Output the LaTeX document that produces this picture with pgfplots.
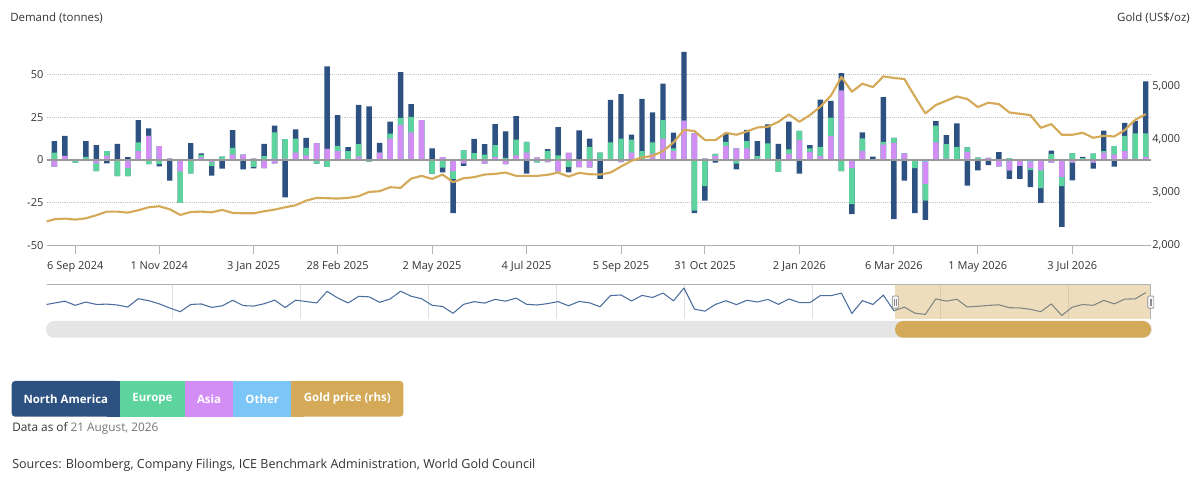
\documentclass[border=0pt]{standalone}
\usepackage{pgfplots}
\pgfplotsset{compat=1.18}
\usepackage{pgfplotstable}
\usepackage{fontspec}
\setmainfont{Open Sans}

\definecolor{cNA}{HTML}{2D5282}
\definecolor{cEU}{HTML}{5DD39E}
\definecolor{cAS}{HTML}{D38EF6}
\definecolor{cOT}{HTML}{7CC5F7}
\definecolor{cGD}{HTML}{D4AA58}
\definecolor{cTxt}{HTML}{333333}
\definecolor{cNav}{HTML}{4B6E9E}

\pgfplotstableread{
w na eu as ot gold
-3 0 0 0 0 2440
-2 6.7 4.3 -3.9 0 2496
-1 11.7 0 2.4 0 2508
0 0 -1.5 0 0.3 2489
1 9.2 1.2 0.6 0 2514
2 8.6 -4.5 -1.5 -0.5 2571
3 -2 2.7 2.4 0 2639
4 9.4 -9.4 0 0 2639
5 1.6 -4.7 -4.7 0 2620
6 13.1 5.1 5.1 0 2665
7 4.3 -2.4 14.1 0 2721
8 -1.4 -2.4 8 0 2740
9 -11.5 -0.5 0.8 0 2684
10 0 -18.4 -6.7 0 2577
11 9.8 -7.8 0 0 2633
12 0.8 1.5 1.5 0 2639
13 -5.5 -2.4 -1.2 0 2627
14 -5.1 2 0 0 2671
15 10.4 3.9 3.1 0 2615
16 -5.5 0 3.1 0 2608
17 -0.8 -4.1 0.8 0 2608
18 7.2 2.2 -4.7 0 2646
19 3.9 15.3 -2 0.8 2677
20 -21.8 11.4 0.8 0 2721
21 5.3 8.2 4.3 0 2759
22 5.9 4.3 2.7 0 2846
23 0 -2.2 9.8 0 2897
24 48.2 -4 6.4 0 2891
25 17.9 3.1 5.1 0 2884
26 2.4 5.1 0 0 2897
27 22.8 7.4 1.9 0 2928
28 30.8 -1 0 0.5 3009
29 5.7 0 4.3 0 3022
30 6.9 2.9 12.5 0 3097
31 26.7 4.1 20.4 0 3085
32 7.5 9 16.1 0 3259
33 0 0 23.3 0 3310
34 6.7 -8 0 0 3253
35 -2.7 -4.5 1.6 0 3335
36 -20 -4.5 -6.5 0 3191
37 -1.5 5.8 -2 0 3266
38 8.3 3.5 0.5 0 3285
39 6.1 3.1 -2.2 0 3335
40 12.2 7.1 1.6 0 3347
41 15.5 1.2 -2.5 0 3372
42 13.7 9.2 2.7 0 3310
43 -8 6.3 4.3 0 3310
44 0 -1.4 1.3 0 3310
45 1 5.3 -1.2 0 3329
46 16.5 2.7 -6.7 0 3372
47 -3.2 -3.5 4.1 -0.5 3297
48 17.3 0 -4.2 0 3366
49 4.8 7.6 -4.3 0 3341
50 -11 4.3 0 0 3335
51 24.9 10.2 0 0 3372
52 25.9 12.5 -1.2 0 3485
53 2.9 7.6 4.3 0 3592
54 30.6 5.1 0 0 3654
55 17.6 6.5 3.7 0 3686
56 21.2 10.8 12.5 0 3774
57 9.2 1.6 5.1 -0.5 3936
58 40.2 0 22.9 0 4175
59 -1.4 -29.6 15.5 0 4150
60 -8.4 -15.3 0.8 0 3981
61 -1.5 1.2 2.4 0 3981
62 5.3 2.5 8 0 4118
63 -3.3 -2.2 6.7 0 4081
64 6.5 4.3 6.7 0 4143
65 8.8 1.4 0.8 0 4218
66 11.2 8.8 0.8 0 4231
67 9.4 -7 0 0 4325
68 16.1 2.7 3.5 0 4462
69 -7.4 5.3 11.6 -0.6 4325
70 2 2 4.7 0 4451
71 27.5 5.5 2.2 0 4607
72 9.8 10.8 13.9 0 4814
73 10.2 -6.5 40 0.5 5165
74 -5.9 -21 -4.7 0 4889
75 3.5 7.3 5.3 0 5039
76 2 0 0 0 4975
77 26.1 1.6 9 0 5177
78 -34.5 2.9 10 0 5146
79 -12 0 3.9 0 5127
80 -26.3 -4.7 0.5 0 4800
81 -11.2 -9.8 -12.7 -1.2 4481
82 2.7 9.8 10.2 0 4639
83 5.3 8.4 0.8 0 4720
84 13.7 7.6 0 0 4800
85 -14.9 2.7 4.7 0 4751
86 -6.1 1.4 0 0 4601
87 -3 0 1.2 0 4682
88 4.5 0 -3.7 0 4657
89 -5 1 -5.3 -0.8 4500
90 -7.5 0 -3.5 0 4475
91 -10 -1.2 -3.5 -1.2 4451
92 -8.6 -10.4 -6.1 0 4212
93 2 3.5 -1.5 0 4281
94 -23.7 -5.5 -9.8 0 4081
95 -10.4 3.5 -1.5 0.3 4081
96 0.8 0.5 0 0.5 4118
97 -3.5 3.7 -1.6 0 4024
98 12 0.8 4.3 0 4062
99 -3.9 4.9 3.1 0 4049
100 7.6 9 5.1 0 4169
101 7.3 14.7 0.8 0 4362
102 30.4 13.7 1.8 0 4469
}\data

\pgfplotsset{
  mybar/.style={ybar, bar width=0.52, bar shift=0pt, draw=none, fill=#1},
  tickfont/.style={font=\fontsize{8.25}{10}\selectfont, text=cTxt},
}

\begin{document}
\begin{tikzpicture}
\useasboundingbox (0,0) rectangle (900pt,363pt);

% axis titles
\node[anchor=west, inner sep=0, font=\fontsize{8.6}{10}\selectfont, text=cTxt] at (7.5pt,349.5pt) {Demand (tonnes)};
\node[anchor=east, inner sep=0, font=\fontsize{8.6}{10}\selectfont, text=cTxt] at (892.5pt,349.5pt) {Gold (US\$/oz)};

% main demand axis
\begin{axis}[
  at={(35.03pt,178.73pt)}, anchor=south west, scale only axis,
  width=828.2pt, height=154.3pt,
  xmin=-2.725, xmax=102.5, ymin=-50, ymax=70,
  axis x line*=bottom, axis y line*=left,
  y axis line style={draw=none},
  x axis line style={black!30, line width=0.75pt},
  xtick={0,8,17,25,34,43,52,60,69,78,86,95},
  xticklabels={6 Sep 2024, 1 Nov 2024, 3 Jan 2025, 28 Feb 2025, 2 May 2025, 4 Jul 2025, 5 Sep 2025, 31 Oct 2025, 2 Jan 2026, 6 Mar 2026, 1 May 2026, 3 Jul 2026},
  xtick align=outside, major tick length=6pt,
  xtick style={black!30, line width=0.75pt},
  ytick={-50,-25,0,25,50},
  yticklabels={-50,-25,0,25,50},
  ytick style={draw=none},
  ymajorgrids, major grid style={densely dotted, black!22, line width=0.6pt},
  ticklabel style={tickfont},
  xticklabel style={yshift=-2pt},
  yticklabel style={xshift=1pt},
  clip=true,
]
\addplot[mybar=cNA] table[x=w, y expr={max(\thisrow{na},0)+max(\thisrow{eu},0)+max(\thisrow{as},0)+max(\thisrow{ot},0)}] \data;
\addplot[mybar=cEU] table[x=w, y expr={max(\thisrow{eu},0)+max(\thisrow{as},0)+max(\thisrow{ot},0)}] \data;
\addplot[mybar=cAS] table[x=w, y expr={max(\thisrow{as},0)+max(\thisrow{ot},0)}] \data;
\addplot[mybar=cOT] table[x=w, y expr={max(\thisrow{ot},0)}] \data;
\addplot[mybar=cNA] table[x=w, y expr={min(\thisrow{na},0)+min(\thisrow{eu},0)+min(\thisrow{as},0)+min(\thisrow{ot},0)}] \data;
\addplot[mybar=cEU] table[x=w, y expr={min(\thisrow{eu},0)+min(\thisrow{as},0)+min(\thisrow{ot},0)}] \data;
\addplot[mybar=cAS] table[x=w, y expr={min(\thisrow{as},0)+min(\thisrow{ot},0)}] \data;
\addplot[mybar=cOT] table[x=w, y expr={min(\thisrow{ot},0)}] \data;
\draw[black!40, line width=1pt] (axis cs:-2.725,0) -- (axis cs:102.5,0);
\end{axis}

% gold price axis (right)
\begin{axis}[
  at={(35.03pt,178.73pt)}, anchor=south west, scale only axis,
  width=828.2pt, height=154.3pt,
  xmin=-2.725, xmax=102.5, ymin=2000, ymax=5860,
  axis x line=none, axis y line*=right,
  y axis line style={draw=none},
  ytick={2000,3000,4000,5000},
  yticklabels={{2,000},{3,000},{4,000},{5,000}},
  ytick style={draw=none},
  ticklabel style={tickfont},
  yticklabel style={xshift=-2.5pt},
  clip=true,
]
\addplot[cGD, line width=1.6pt, line join=round] table[x=w, y=gold] \data;
\end{axis}

% navigator
\begin{axis}[
  at={(35.03pt,123.98pt)}, anchor=south west, scale only axis,
  width=828.2pt, height=25.8pt,
  xmin=-2.725, xmax=102.5, ymin=-51, ymax=77,
  axis lines=none, ticks=none, clip=true,
]
\pgfplotsinvokeforeach{9.28,21.48,33.67,45.87,58.06,70.26,82.46,94.65}{
  \draw[black!12, line width=0.6pt] (axis cs:#1,-51) -- (axis cs:#1,77);
}
\addplot[cNav, line width=0.8pt, line join=round] table[x=w, y expr={\thisrow{na}+\thisrow{eu}+\thisrow{as}+\thisrow{ot}}] \data;
\fill[cGD, opacity=0.4] (axis cs:78.1,-51) rectangle (axis cs:102.5,77);
\draw[black!30, line width=0.75pt] (rel axis cs:0,1) -- (rel axis cs:1,1);
\draw[black!30, line width=0.75pt] (rel axis cs:1,0) -- (rel axis cs:1,1);
\end{axis}

% navigator handles
\filldraw[fill=black!5, draw=black!45, line width=0.5pt, rounded corners=0.8pt] (669.2pt,131.8pt) rectangle (673.8pt,141pt);
\draw[black!45, line width=0.4pt] (670.9pt,133.8pt) -- (670.9pt,139pt);
\draw[black!45, line width=0.4pt] (672.1pt,133.8pt) -- (672.1pt,139pt);
\filldraw[fill=black!5, draw=black!45, line width=0.5pt, rounded corners=0.8pt] (860.8pt,131.8pt) rectangle (865.4pt,141pt);
\draw[black!45, line width=0.4pt] (862.5pt,133.8pt) -- (862.5pt,139pt);
\draw[black!45, line width=0.4pt] (863.7pt,133.8pt) -- (863.7pt,139pt);

% scrollbar
\fill[black!10, rounded corners=6.2pt] (34.5pt,109.7pt) rectangle (864pt,122.25pt);
\fill[cGD, rounded corners=6.2pt] (671.25pt,109.7pt) rectangle (863.25pt,122.25pt);

% legend buttons
\fill[cNA, rounded corners=2.5pt] (8.8pt,50.5pt) rectangle (90pt,77.25pt);
\fill[cNA] (80pt,50.5pt) rectangle (90pt,77.25pt);
\fill[cEU] (90pt,50.5pt) rectangle (138.5pt,77.25pt);
\fill[cAS] (138.5pt,50.5pt) rectangle (175pt,77.25pt);
\fill[cOT] (175pt,50.5pt) rectangle (218.5pt,77.25pt);
\fill[cGD, rounded corners=2.5pt] (218.5pt,50.5pt) rectangle (302.5pt,77.25pt);
\fill[cGD] (218.5pt,50.5pt) rectangle (228pt,77.25pt);
\begin{scope}[every node/.style={text=white, font=\fontsize{8.6}{10}\selectfont\bfseries, inner sep=0}]
\node at (49.4pt,63.8pt) {North America};
\node at (114.3pt,63.8pt) {Europe};
\node at (156.8pt,63.8pt) {Asia};
\node at (196.7pt,63.8pt) {Other};
\node at (260.5pt,63.8pt) {Gold price (rhs)};
\end{scope}

% footnotes
\node[anchor=west, inner sep=0, font=\fontsize{8.85}{11}\selectfont, text=cTxt] at (9pt,42pt) {Data as of \textcolor{black!55}{21 August, 2026}};
\node[anchor=west, inner sep=0, font=\fontsize{9.4}{11}\selectfont, text=cTxt] at (9pt,14.25pt) {Sources: Bloomberg, Company Filings, ICE Benchmark Administration, World Gold Council};
\end{tikzpicture}
\end{document}
